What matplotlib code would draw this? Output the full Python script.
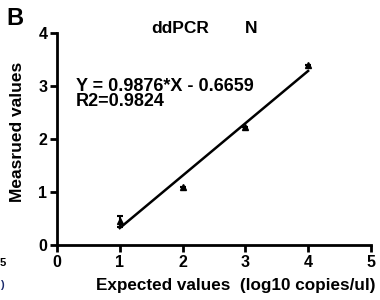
import matplotlib
matplotlib.use("Agg")
import matplotlib.pyplot as plt
import numpy as np

plt.rcParams['font.family'] = ['Liberation Sans', 'DejaVu Sans']
plt.rcParams['font.weight'] = 'bold'

expected = [1, 2, 3, 4]
measured = [0.45, 1.10, 2.23, 3.40]
sd       = [0.10, 0.0, 0.0, 0.0]

slope, intercept = 0.9876, -0.6659
r2 = 0.9824

fig = plt.figure(figsize=(3.8, 3.0), dpi=100)
ax = fig.add_axes([0.15, 0.183, 0.826, 0.707])

ax.errorbar(expected, measured, yerr=sd, fmt='^', color='black', ms=5,
            capsize=2, elinewidth=1.5, capthick=1.5)
fx = np.array([expected[0], expected[-1]])
ax.plot(fx, slope * fx + intercept, color='black', lw=1.8)

ax.set_xlim(0, 5)
ax.set_ylim(0, 4)
ax.set_xticks([0, 1, 2, 3, 4, 5])
ax.set_yticks([0, 1, 2, 3, 4])
for s in ['top', 'right']:
    ax.spines[s].set_visible(False)
for s in ['left', 'bottom']:
    ax.spines[s].set_linewidth(2)
ax.tick_params(width=2, length=5, labelsize=11.5, pad=2)
for lab in ax.get_xticklabels() + ax.get_yticklabels():
    lab.set_fontweight('bold')

ax.set_xlabel('Expected values  (log10 copies/ul)', fontsize=12.3, fontweight='bold')
ax.xaxis.set_label_coords(0.57, -0.155)
ax.set_ylabel('Measrued values', fontsize=12.5, fontweight='bold')
ax.yaxis.set_label_coords(-0.102, 0.533)

ax.text(0.30, 3.0, 'Y = {:.4f}*X - {:.4f}'.format(slope, -intercept), fontsize=13,
        fontweight='bold', va='center')
ax.text(0.30, 2.71, 'R2={:.4f}'.format(r2), fontsize=13, fontweight='bold', va='center')

fig.text(0.397, 0.905, 'ddPCR', fontsize=12.5, fontweight='bold', va='center')
fig.text(0.645, 0.905, 'N', fontsize=12.5, fontweight='bold', va='center')
fig.text(0.016, 0.938, 'B', fontsize=17, fontweight='bold', va='center')

# fragments of the neighbouring panel on the left edge
fig.text(0.0, 0.125, '5', fontsize=8, fontweight='bold', ha='left', va='center')
fig.text(0.0, 0.05, ')', fontsize=8, fontweight='bold', ha='left', va='center',
         color='#1a2a6c')

fig.savefig('out.png', dpi=100)
